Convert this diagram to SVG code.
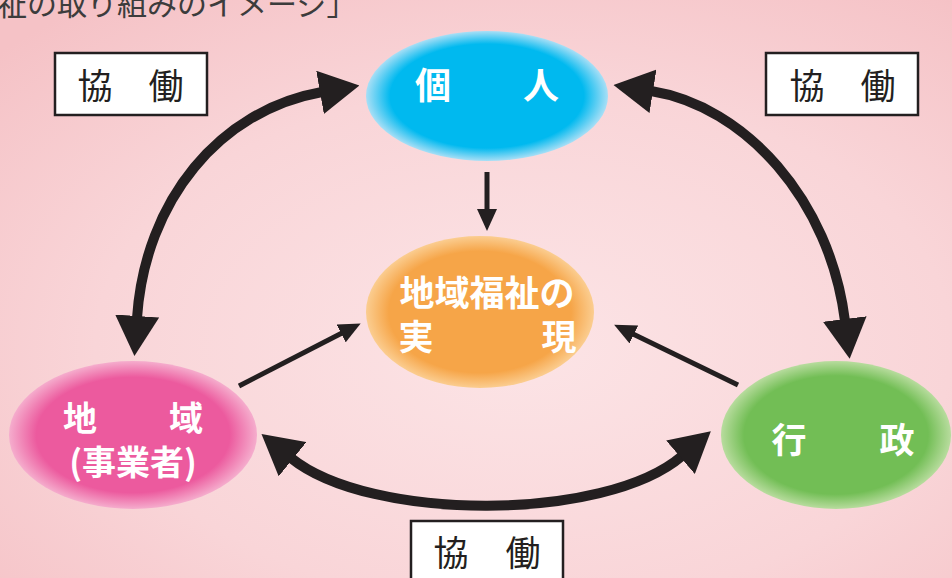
<svg xmlns="http://www.w3.org/2000/svg" width="952" height="578" viewBox="0 0 952 578">
<defs>
<radialGradient id="bg" cx="0.55" cy="0.6" r="0.75">
<stop offset="0" stop-color="#FCE4E6"/>
<stop offset="0.6" stop-color="#F9D5D8"/>
<stop offset="1" stop-color="#F5C2C6"/>
</radialGradient>
<radialGradient id="gBlue"><stop offset="0.8" stop-color="#00B9EF"/><stop offset="1" stop-color="#A8DFF6"/></radialGradient>
<radialGradient id="gOrange"><stop offset="0.8" stop-color="#F6A548"/><stop offset="1" stop-color="#FBCD90"/></radialGradient>
<radialGradient id="gPink"><stop offset="0.78" stop-color="#EC5A9E"/><stop offset="1" stop-color="#F5ADCD"/></radialGradient>
<radialGradient id="gGreen"><stop offset="0.8" stop-color="#72BE55"/><stop offset="1" stop-color="#B8DC9E"/></radialGradient>
<marker id="big" viewBox="0 0 40 44" refX="2" refY="22" markerWidth="40" markerHeight="44" markerUnits="userSpaceOnUse" orient="auto-start-reverse">
<path d="M0,0 L40,22 L0,44 z" fill="#231F20"/>
</marker>
<marker id="small" viewBox="0 0 22 20" refX="1" refY="10" markerWidth="22" markerHeight="20" markerUnits="userSpaceOnUse" orient="auto">
<path d="M0,0 L22,10 L0,20 z" fill="#231F20"/>
</marker>
<style>
.node{font-family:"Noto Sans CJK JP","Noto Sans",sans-serif;font-weight:bold;fill:#fff;text-anchor:middle}
.lbl{font-family:"Noto Sans CJK JP","Noto Sans",sans-serif;font-size:35px;fill:#231F20;text-anchor:middle}
.box{fill:#fff;stroke:#231F20;stroke-width:2.5}
.thick{fill:none;stroke:#231F20;stroke-width:10}
.thin{fill:none;stroke:#231F20;stroke-width:5}
</style>
</defs>
<rect x="0" y="0" width="952" height="578" fill="url(#bg)"/>
<text x="-3" y="15" font-family="Noto Sans CJK JP,sans-serif" font-size="30" fill="#3C3C3C">祉の取り組みのイメージ」</text>

<g id="connectors">
<path class="thick" d="M137,318 C145,200 220,110 322,92" marker-start="url(#big)" marker-end="url(#big)"/>
<path class="thick" d="M651,91 C745,106 830,200 845,321" marker-start="url(#big)" marker-end="url(#big)"/>
<path class="thick" d="M291,458 C370,522 605,522 682,456" marker-start="url(#big)" marker-end="url(#big)"/>
<path class="thin" d="M487,172 L487,210" marker-end="url(#small)"/>
<path class="thin" d="M239,386 L342,333" marker-end="url(#small)"/>
<path class="thin" d="M738,385 L633,334" marker-end="url(#small)"/>
</g>

<g id="kojin">
<ellipse cx="487" cy="96" rx="121" ry="65" fill="url(#gBlue)"/>
<text class="node" font-size="36" x="433" y="99">個</text>
<text class="node" font-size="36" x="541" y="99">人</text>
</g>

<g id="chiiki-fukushi">
<ellipse cx="480" cy="312" rx="114" ry="76" fill="url(#gOrange)"/>
<text class="node" font-size="35" x="487" y="306">地域福祉の</text>
<text class="node" font-size="35" x="416" y="350">実</text>
<text class="node" font-size="35" x="559" y="350">現</text>
</g>

<g id="chiiki">
<ellipse cx="133" cy="435" rx="124" ry="74" fill="url(#gPink)"/>
<text class="node" font-size="34" x="80" y="431">地</text>
<text class="node" font-size="34" x="186" y="431">域</text>
<text class="node" font-size="34" x="133" y="475">(事業者)</text>
</g>

<g id="gyosei">
<ellipse cx="836" cy="435" rx="115" ry="74" fill="url(#gGreen)"/>
<text class="node" font-size="35" x="789" y="453">行</text>
<text class="node" font-size="35" x="897" y="453">政</text>
</g>

<g id="kyodo-left">
<rect class="box" x="55" y="53" width="152" height="62"/>
<text class="lbl" x="95" y="99">協</text>
<text class="lbl" x="166" y="99">働</text>
</g>
<g id="kyodo-right">
<rect class="box" x="766" y="53" width="152" height="62"/>
<text class="lbl" x="807" y="99">協</text>
<text class="lbl" x="878" y="99">働</text>
</g>
<g id="kyodo-bottom">
<rect class="box" x="411" y="521" width="152" height="64"/>
<text class="lbl" x="451" y="566">協</text>
<text class="lbl" x="523" y="566">働</text>
</g>
</svg>
